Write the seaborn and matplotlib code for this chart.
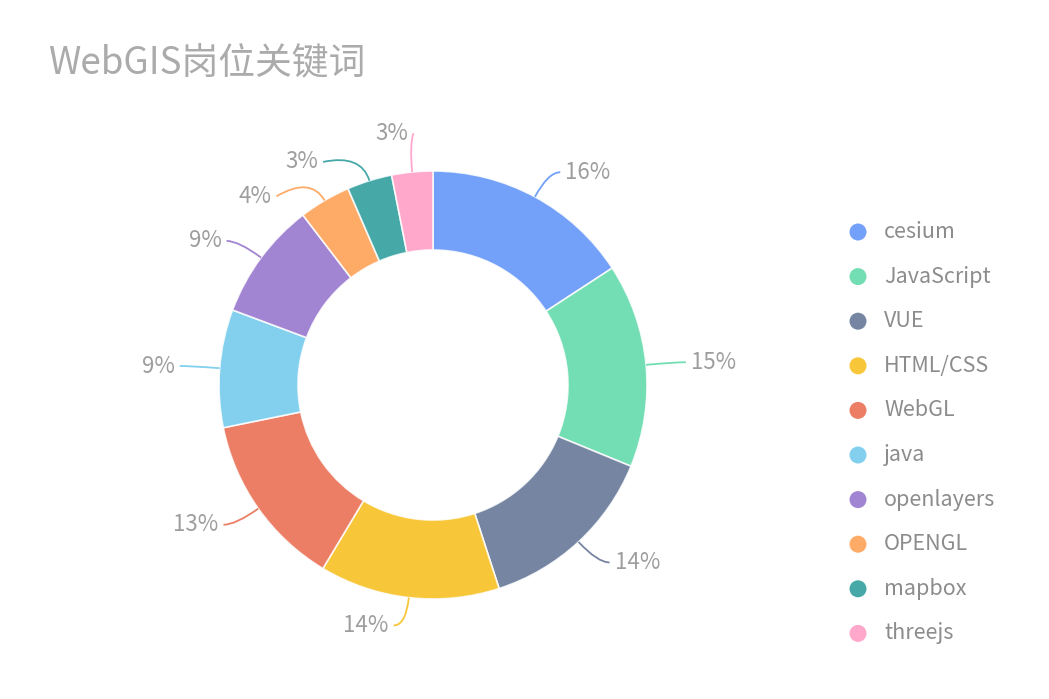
import numpy as np
import matplotlib
matplotlib.use("Agg")
import matplotlib.pyplot as plt
from matplotlib.path import Path
from matplotlib.patches import PathPatch
import seaborn as sns

# ---- data ----
categories = ["cesium", "JavaScript", "VUE", "HTML/CSS", "WebGL",
              "java", "openlayers", "OPENGL", "mapbox", "threejs"]
shares = [15.8, 15.4, 13.8, 13.6, 13.2, 8.9, 8.9, 3.9, 3.4, 3.1]
palette = ["#5B8FF9", "#5AD8A6", "#5D7092", "#F6BD16", "#E8684A",
           "#6DC8EC", "#9270CA", "#FF9D4D", "#269A99", "#FF99C3"]
title = "WebGIS岗位关键词"

# ---- style ----
sns.set_theme(style="white")
plt.rcParams['font.family'] = ['Noto Sans CJK SC', 'DejaVu Sans']
colors = sns.color_palette(palette)

W, H = 1049, 699
fig = plt.figure(figsize=(W / 100, H / 100), dpi=100)
ax = fig.add_axes([0, 0, 1, 1])

cx, cy = 433, H - 385
R, ring = 214, 79
ALPHA = 0.85

wedges, _ = ax.pie(shares, colors=colors, startangle=90, counterclock=False,
                   center=(cx, cy), radius=R, frame=True,
                   wedgeprops=dict(width=ring, edgecolor="white",
                                   linewidth=1.2, alpha=ALPHA))
ax.set_xlim(0, W)
ax.set_ylim(0, H)
ax.set_aspect("auto")
ax.axis("off")

# ---- labels with smooth leader lines ----
total = float(sum(shares))
cum = np.cumsum([0.0] + shares[:-1])
len1, len2, gap = 28, 12, 5
nudges = {7: (-22, -20), 8: (-26, -8), 9: (16, 11)}
label_color = "#9e9e9e"
for i, s in enumerate(shares):
    mid = np.radians(90 - 360 * (cum[i] + s / 2) / total)
    c, sn = np.cos(mid), np.sin(mid)
    p0 = (cx + R * c, cy + R * sn)
    p1 = (cx + (R + len1) * c, cy + (R + len1) * sn)
    side = 1 if c >= 0 else -1
    p2 = [p1[0] + side * len2, p1[1]]
    if i in nudges:
        p2[0] += nudges[i][0]
        p2[1] += nudges[i][1]
    path = Path([p0, p1, tuple(p2)], [Path.MOVETO, Path.CURVE3, Path.CURVE3])
    ax.add_patch(PathPatch(path, facecolor="none", edgecolor=colors[i],
                           lw=1.3, alpha=ALPHA))
    ax.text(p2[0] + side * gap, p2[1], f"{round(s / total * 100)}%",
            ha="left" if side > 0 else "right", va="center",
            fontsize=16, color=label_color)

# ---- legend ----
leg_x, leg_y0, leg_dy = 858, H - 232, 44.6
for i, name in enumerate(categories):
    y = leg_y0 - i * leg_dy
    ax.scatter([leg_x], [y], s=150, color=colors[i], alpha=ALPHA,
               edgecolors="none")
    ax.text(leg_x + 26, y, name, ha="left", va="center", fontsize=15.5,
            color="#8c8c8c")

# ---- title ----
ax.text(48, H - 63, title, ha="left", va="center", fontsize=26.5,
        color="#ababab")

fig.savefig("out.png", dpi=100, facecolor="white")
